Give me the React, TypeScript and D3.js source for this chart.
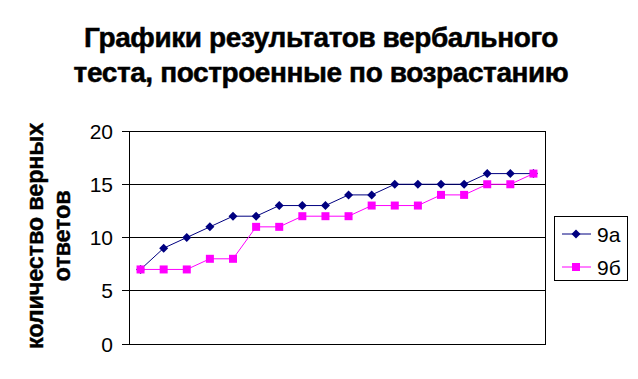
import React from "react";
import * as d3 from "d3";

const titleLines = ["Графики результатов вербального", "теста, построенные по возрастанию"];
const yTitleLines = ["количество верных", "ответов"];
const seriesNames = ["9а", "9б"];
const valuesA = [7, 9, 10, 11, 12, 12, 13, 13, 13, 14, 14, 15, 15, 15, 15, 16, 16, 16];
const valuesB = [7, 7, 7, 8, 8, 11, 11, 12, 12, 12, 13, 13, 13, 14, 14, 15, 15, 16];
const yTicks = [0, 5, 10, 15, 20];

const W = 638, H = 379;
const plot = { left: 129, right: 545, top: 131, bottom: 344 };
const font = "'Liberation Sans', Arial, sans-serif";

export default function App() {
  const idx = valuesA.map((_, i) => i);
  const x = d3.scalePoint<number>().domain(idx).range([plot.left, plot.right]).padding(0.5);
  const y = d3.scaleLinear().domain([0, 20]).range([plot.bottom, plot.top]);
  const line = d3.line<number>().x((_, i) => x(i)!).y((d) => y(d));
  const colA = "#000080";
  const colB = "#FF00FF";
  const diamond = (cx: number, cy: number, r = 4.5) =>
    `M${cx},${cy - r}L${cx + r},${cy}L${cx},${cy + r}L${cx - r},${cy}Z`;

  return (
    <svg width={W} height={H} style={{ position: "absolute", left: 0, top: 0 }} fontFamily={font}>
      <rect x={0} y={0} width={W} height={H} fill="#fff" />
      {titleLines.map((t, i) => (
        <text key={i} x={321} y={47 + i * 35} textAnchor="middle" fontSize={28} fontWeight="bold" letterSpacing={-0.4} stroke="#000" strokeWidth={0.5}>
          {t}
        </text>
      ))}
      {yTitleLines.map((t, i) => (
        <text key={i} transform={`translate(${43 + i * 27},236) rotate(-90)`} textAnchor="middle" fontSize={23.5} fontWeight="bold" letterSpacing={-0.2} stroke="#000" strokeWidth={0.4}>
          {t}
        </text>
      ))}
      {yTicks.map((v) => (
        <g key={v}>
          <line x1={plot.left} x2={plot.right} y1={y(v)} y2={y(v)} stroke="#000" strokeWidth={1} shapeRendering="crispEdges" />
          <line x1={plot.left - 7} x2={plot.left} y1={y(v)} y2={y(v)} stroke="#000" strokeWidth={1} shapeRendering="crispEdges" />
          <text x={113} y={y(v) + 7.5} textAnchor="end" fontSize={21}>{v}</text>
        </g>
      ))}
      <rect x={plot.left} y={plot.top} width={plot.right - plot.left} height={plot.bottom - plot.top} fill="none" stroke="#000" strokeWidth={1} shapeRendering="crispEdges" />
      <path d={line(valuesA)!} fill="none" stroke={colA} strokeWidth={1} />
      {valuesA.map((v, i) => (
        <path key={i} d={diamond(x(i)!, y(v))} fill={colA} />
      ))}
      <path d={line(valuesB)!} fill="none" stroke={colB} strokeWidth={1} />
      {valuesB.map((v, i) => (
        <rect key={i} x={x(i)! - 4} y={y(v) - 4} width={8} height={8} fill={colB} />
      ))}
      <rect x={554.5} y={216.5} width={73} height={64} fill="#fff" stroke="#000" strokeWidth={1} />
      {seriesNames.map((n, i) => {
        const ly = 234 + i * 33;
        const col = i === 0 ? colA : colB;
        return (
          <g key={n}>
            <line x1={562} x2={591} y1={ly} y2={ly} stroke={col} strokeWidth={1} />
            {i === 0 ? <path d={diamond(576, ly)} fill={col} /> : <rect x={572} y={ly - 4} width={8} height={8} fill={col} />}
            <text x={597} y={ly + 7.5} fontSize={21}>{n}</text>
          </g>
        );
      })}
    </svg>
  );
}
